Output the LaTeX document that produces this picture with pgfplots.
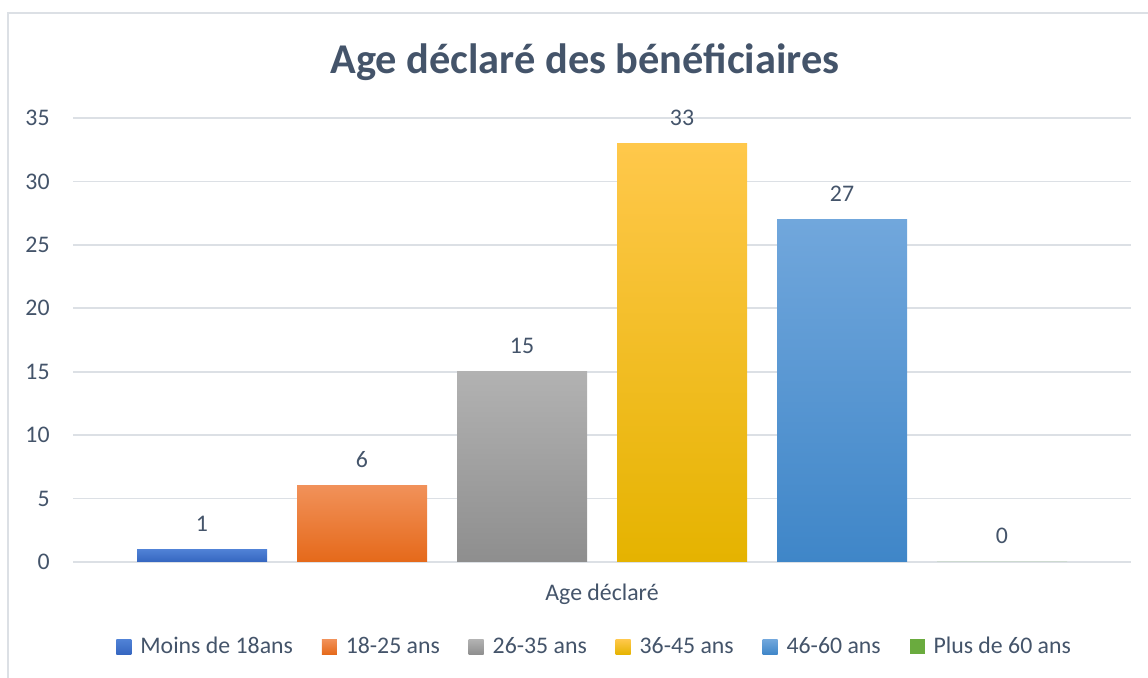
\documentclass[border=0pt]{standalone}
\usepackage{fontspec}
\setmainfont{Carlito}
\usepackage{pgfplots}
\pgfplotsset{compat=1.18}
\definecolor{txt}{HTML}{44546A}
\definecolor{gridc}{HTML}{DCE0E5}
\definecolor{framec}{HTML}{DCE0E5}
\definecolor{b1t}{HTML}{5082D6}\definecolor{b1b}{HTML}{3566C0}
\definecolor{o1t}{HTML}{F19159}\definecolor{o1b}{HTML}{E5691A}
\definecolor{g1t}{HTML}{B2B2B2}\definecolor{g1b}{HTML}{8E8E8E}
\definecolor{y1t}{HTML}{FFC84B}\definecolor{y1b}{HTML}{E5B300}
\definecolor{c1t}{HTML}{71A7DC}\definecolor{c1b}{HTML}{3F86C8}
\definecolor{gr1}{HTML}{6AAB3E}
\begin{document}
\begin{tikzpicture}
\useasboundingbox (-36.5pt,-58pt) rectangle (537.5pt,281pt);
\begin{scope}
\clip (-36.5pt,-58pt) rectangle (537.5pt,281pt);
\draw[framec, line width=1.2pt] (-32.5pt,274.5pt) rectangle (560pt,-80pt);
\end{scope}
\node[txt, font=\fontsize{21.2}{25}\selectfont\bfseries] at (256pt,250pt) {Age déclaré des bénéficiaires};
\begin{axis}[
  at={(0pt,0pt)}, anchor=south west,
  scale only axis, width=529pt, height=222pt,
  ybar=15pt, bar width=65pt,
  xmin=-0.5, xmax=0.5,
  ymin=0, ymax=35, ytick={0,5,...,35},
  xtick={0}, xticklabels={Age déclaré},
  axis line style={draw=none},
  major tick length=0pt,
  ymajorgrids, xmajorgrids=false, grid style={draw=gridc, line width=0.8pt},
  tick label style={font=\fontsize{11.9}{14}\selectfont, text=txt},
  /pgf/number format/assume math mode=true,
  yticklabel style={inner sep=0pt, xshift=-11.5pt},
  xticklabel style={inner sep=0pt, yshift=-11pt},
  nodes near coords,
  every node near coord/.append style={font=\fontsize{11.9}{14}\selectfont, text=txt, inner sep=0pt, yshift=8.8pt, anchor=south},
  legend style={at={(0.494,-0.1914)}, anchor=center, draw=none, fill=none,
    font=\fontsize{11.9}{14}\selectfont, text=txt,
    /tikz/every even column/.append style={column sep=12.4pt},
    /tikz/every odd column/.append style={column sep=2.5pt}},
  legend columns=-1,
  sq/.style={legend image code/.code={\path[##1, draw=none] (0pt,-3.75pt) rectangle (7.5pt,3.75pt);}},
]
\addplot[draw=none, top color=b1t, bottom color=b1b, sq] coordinates {(0,1)};
\addplot[draw=none, top color=o1t, bottom color=o1b, sq] coordinates {(0,6)};
\addplot[draw=none, top color=g1t, bottom color=g1b, sq] coordinates {(0,15)};
\addplot[draw=none, top color=y1t, bottom color=y1b, sq] coordinates {(0,33)};
\addplot[draw=none, top color=c1t, bottom color=c1b, sq] coordinates {(0,27)};
\addplot[draw=none, fill=gr1, sq] coordinates {(0,0)};
\legend{Moins de 18ans, 18-25 ans, 26-35 ans, 36-45 ans, 46-60 ans, Plus de 60 ans}
\end{axis}
\end{tikzpicture}
\end{document}
